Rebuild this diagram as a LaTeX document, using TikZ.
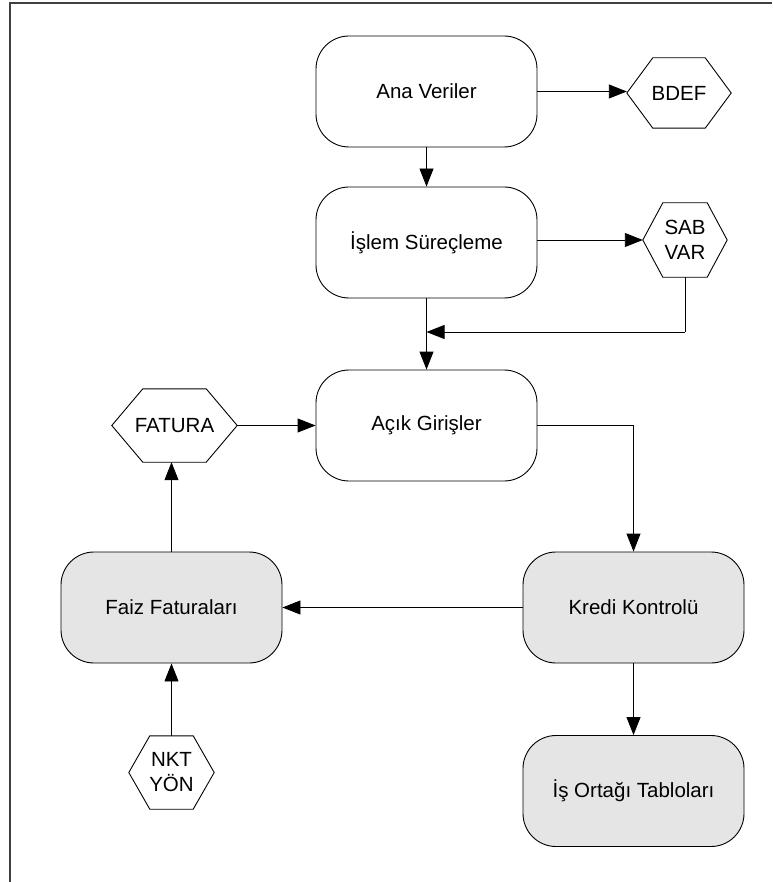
\documentclass[tikz,border=0pt]{standalone}
\usepackage{fontspec}
\setmainfont{Liberation Sans}
\usetikzlibrary{arrows.meta}

% outline of a flattened hexagon drawn around a named node
\newcommand\hexoutline[2]{%
  \draw[hexline] (#1.west) -- ([xshift=#2]#1.north west) -- ([xshift=-#2]#1.north east)
    -- (#1.east) -- ([xshift=-#2]#1.south east) -- ([xshift=#2]#1.south west) -- cycle;}

\begin{document}
\begin{tikzpicture}[x=1pt,y=-1pt,
  every node/.style={font=\fontsize{20.5}{25}\selectfont, align=center},
  proc/.style={draw=black, line width=0.9pt, rounded corners=33pt,
    minimum width=221pt, minimum height=111pt, inner sep=0pt, fill=white},
  procgray/.style={proc, fill=gray!20},
  hexbox/.style={inner sep=0pt},
  hexline/.style={draw=black, line width=0.9pt},
  flow/.style={draw=black, line width=0.9pt, -{Triangle[length=18pt,width=14pt]}},
  plain/.style={draw=black, line width=0.9pt},
  frameline/.style={draw=black!75, line width=1.2pt}]

\useasboundingbox (0,0) rectangle (772,882);

% frame edges
\coordinate (ftl) at (10,3);
\coordinate (ftr) at (772,3);
\coordinate (fbl) at (10,882);
\draw[frameline] (ftr) -- (ftl) -- (fbl);

% process boxes
\node[proc]     (ana)   at (426.5,91.5)  {Ana Veriler};
\node[proc]     (islem) at (426.5,242.5) {İşlem Süreçleme};
\node[proc]     (acik)  at (426.5,425.5) {Açık Girişler};
\node[procgray] (kredi) at (633.5,607.5) {Kredi Kontrolü};
\node[procgray] (faiz)  at (171.5,607.5) {Faiz Faturaları};
\node[procgray] (isort) at (633.5,791)   {İş Ortağı Tabloları};

% hexagon data nodes
\node[hexbox, minimum width=104pt, minimum height=70pt] (bdef)   at (679,93)      {BDEF};
\node[hexbox, minimum width=84pt,  minimum height=74pt] (sabvar) at (685,240)     {SAB\\VAR};
\node[hexbox, minimum width=125pt, minimum height=73pt] (fatura) at (174.5,425.5) {FATURA};
\node[hexbox, minimum width=85pt,  minimum height=73pt] (nkt)    at (171.5,772.5) {NKT\\YÖN};
\hexoutline{bdef}{26pt}
\hexoutline{sabvar}{20pt}
\hexoutline{fatura}{31pt}
\hexoutline{nkt}{21pt}

% connectors
\draw[flow] (ana.south) -- (islem.north);
\draw[flow] (ana.east) -- (ana.east -| bdef.west);
\draw[flow] (islem.east |- sabvar.west) -- (sabvar.west);
\draw[flow] (islem.south) -- (acik.north);
\coordinate (sabturn) at (sabvar.south |- 0,332);
\coordinate (sabjoin) at (islem.south |- 0,332);
\draw[plain] (sabvar.south) -- (sabturn);
\draw[flow] (sabturn) -- (sabjoin);
\draw[flow] (fatura.east) -- (fatura.east -| acik.west);
\draw[flow] (acik.east) -| (kredi.north);
\draw[flow] (kredi.west) -- (faiz.east);
\draw[flow] (faiz.north) -- (faiz.north |- fatura.south);
\draw[flow] (nkt.north) -- (faiz.south);
\draw[flow] (kredi.south) -- (isort.north);
\end{tikzpicture}
\end{document}
